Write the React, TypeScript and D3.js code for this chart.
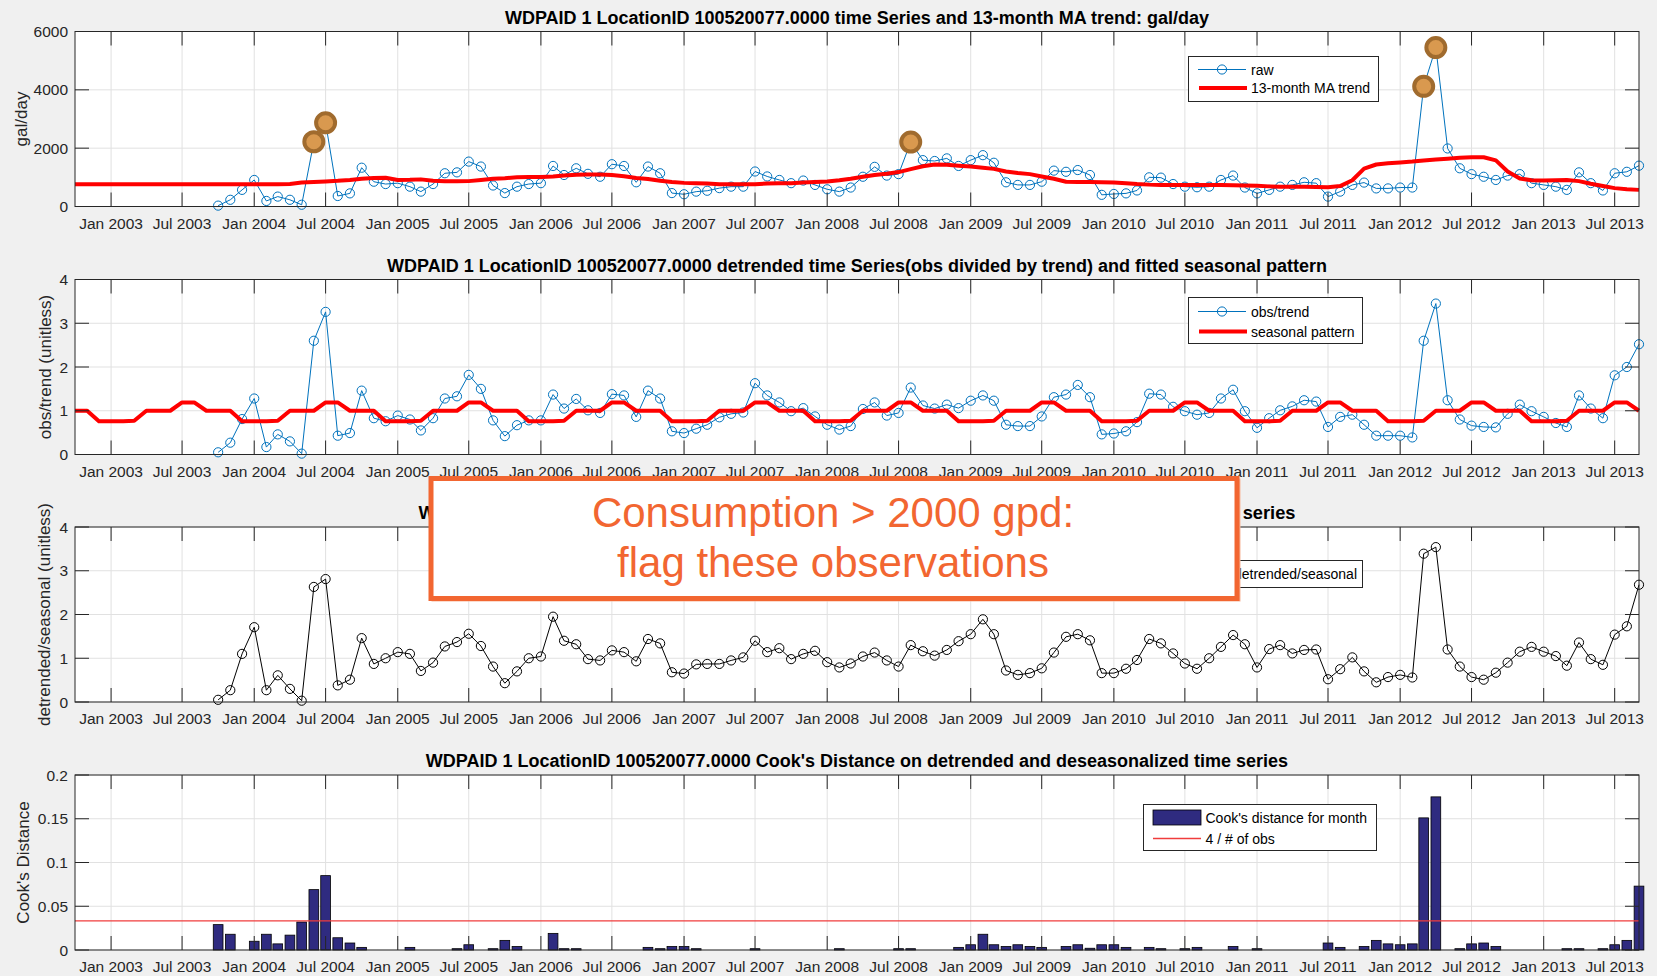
import React from 'react';
import * as d3 from 'd3';

// ---------- data ----------
const TICK_LABELS = [
  'Jan 2003', 'Jul 2003', 'Jan 2004', 'Jul 2004', 'Jan 2005', 'Jul 2005', 'Jan 2006', 'Jul 2006',
  'Jan 2007', 'Jul 2007', 'Jan 2008', 'Jul 2008', 'Jan 2009', 'Jul 2009', 'Jan 2010', 'Jul 2010',
  'Jan 2011', 'Jul 2011', 'Jan 2012', 'Jul 2012', 'Jan 2013', 'Jul 2013',
];

const TREND_START = '2002-10';
const OBS_START = '2003-10';

// raw monthly consumption (gal/day), Oct 2003 .. Sep 2013
const RAW = [
  30, 230, 570,
  910, 190, 340, 230, 60, 2220, 2870, 360, 450, 1330, 850, 770,
  800, 680, 510, 770, 1140, 1170, 1540, 1370, 720, 460, 680, 770,
  800, 1390, 1080, 1310, 1120, 1020, 1450, 1390, 830, 1370, 1140, 460,
  420, 510, 540, 630, 680, 680, 1200, 1030, 910, 800, 890, 740,
  590, 510, 650, 1020, 1360, 1060, 1110, 2210, 1590, 1560, 1650, 1390,
  1590, 1760, 1500, 830, 740, 740, 850, 1230, 1190, 1250, 1080, 400,
  430, 450, 550, 1000, 990, 770, 680, 660, 680, 910, 1060, 650,
  450, 570, 680, 740, 830, 800, 340, 510, 740, 820, 620, 620,
  650, 650, 4120, 5450, 1990, 1310, 1110, 1020, 910, 1060, 1110, 800,
  740, 680, 570, 1170, 800, 550, 1140, 1190, 1400,
];

// 13-month MA trend, Oct 2002 .. Sep 2013
const TREND = [
  765, 765, 765, 765, 765, 765, 765, 765, 765, 765, 765, 765, 765, 765, 765, 765, 765, 765,
  775, 820, 840, 860, 880, 910, 950, 980, 985,
  910, 915, 930, 880, 865, 865, 870, 910, 950, 970, 1000, 1010,
  1010, 1030, 1060, 1090, 1100, 1100, 1080, 1040, 980, 940, 880, 840,
  810, 800, 790, 760, 760, 760, 760, 790, 800, 800, 820, 840,
  860, 900, 950, 1020, 1080, 1120, 1180, 1280, 1380, 1440, 1430, 1400,
  1370, 1330, 1290, 1200, 1150, 1110, 1030, 950, 850, 840, 840, 830,
  820, 800, 770, 750, 740, 740, 740, 740, 740, 740, 730, 720,
  710, 690, 680, 680, 680, 670, 660, 700, 900, 1300, 1440, 1480,
  1510, 1540, 1580, 1610, 1640, 1670, 1690, 1690, 1580, 1200, 960, 900,
  890, 900, 910, 870, 780, 700, 630, 590, 570,
];

// obs / trend, Oct 2003 .. Sep 2013
const OBS_TREND = [
  0.05, 0.27, 0.81,
  1.28, 0.17, 0.46, 0.30, 0.02, 2.60, 3.26, 0.43, 0.49, 1.46, 0.83, 0.76,
  0.89, 0.80, 0.55, 0.83, 1.28, 1.33, 1.82, 1.50, 0.78, 0.42, 0.67, 0.78,
  0.78, 1.37, 1.05, 1.27, 1.01, 0.95, 1.38, 1.35, 0.86, 1.46, 1.28, 0.53,
  0.49, 0.59, 0.68, 0.85, 0.93, 0.96, 1.63, 1.35, 1.19, 0.99, 1.06, 0.87,
  0.68, 0.57, 0.65, 1.04, 1.19, 0.89, 0.95, 1.53, 1.12, 1.05, 1.14, 1.06,
  1.23, 1.35, 1.23, 0.68, 0.65, 0.65, 0.87, 1.31, 1.37, 1.59, 1.31, 0.46,
  0.48, 0.53, 0.74, 1.39, 1.37, 1.09, 0.99, 0.91, 0.95, 1.28, 1.48, 0.99,
  0.61, 0.83, 1.01, 1.10, 1.24, 1.21, 0.63, 0.86, 0.91, 0.68, 0.43, 0.43,
  0.43, 0.39, 2.60, 3.45, 1.24, 0.80, 0.66, 0.63, 0.62, 0.93, 1.14, 0.99,
  0.86, 0.72, 0.63, 1.35, 1.05, 0.83, 1.81, 2.00, 2.52,
];

// fitted seasonal pattern, Oct 2002 .. Sep 2013
const SEASONAL = [
  1.0, 1.0, 0.76,
  0.76, 0.76, 0.77, 1.0, 1.0, 1.0, 1.19, 1.19, 1.0, 1.0, 1.0, 0.76,
  0.76, 0.76, 0.77, 1.0, 1.0, 1.0, 1.19, 1.19, 1.0, 1.0, 1.0, 0.76,
  0.76, 0.76, 0.77, 1.0, 1.0, 1.0, 1.19, 1.19, 1.0, 1.0, 1.0, 0.76,
  0.76, 0.76, 0.77, 1.0, 1.0, 1.0, 1.19, 1.19, 1.0, 1.0, 1.0, 0.76,
  0.76, 0.76, 0.77, 1.0, 1.0, 1.0, 1.19, 1.19, 1.0, 1.0, 1.0, 0.76,
  0.76, 0.76, 0.77, 1.0, 1.0, 1.0, 1.19, 1.19, 1.0, 1.0, 1.0, 0.76,
  0.76, 0.76, 0.77, 1.0, 1.0, 1.0, 1.19, 1.19, 1.0, 1.0, 1.0, 0.76,
  0.76, 0.76, 0.77, 1.0, 1.0, 1.0, 1.19, 1.19, 1.0, 1.0, 1.0, 0.76,
  0.76, 0.76, 0.77, 1.0, 1.0, 1.0, 1.19, 1.19, 1.0, 1.0, 1.0, 0.76,
  0.76, 0.76, 0.77, 1.0, 1.0, 1.0, 1.19, 1.19, 1.0, 1.0, 1.0, 0.76,
  0.76, 0.76, 0.77, 1.0, 1.0, 1.0, 1.19, 1.19, 1.0,
];

// detrended / seasonal, Oct 2003 .. Sep 2013
const DESEAS = [
  0.05, 0.27, 1.10,
  1.71, 0.27, 0.61, 0.30, 0.03, 2.63, 2.81, 0.38, 0.51, 1.46, 0.87, 1.00,
  1.14, 1.10, 0.71, 0.90, 1.27, 1.37, 1.56, 1.28, 0.81, 0.43, 0.70, 1.00,
  1.04, 1.95, 1.40, 1.32, 0.98, 0.95, 1.18, 1.14, 0.93, 1.44, 1.34, 0.68,
  0.65, 0.86, 0.87, 0.87, 0.95, 1.02, 1.40, 1.14, 1.23, 0.98, 1.10, 1.17,
  0.91, 0.79, 0.88, 1.04, 1.13, 0.95, 0.81, 1.30, 1.16, 1.06, 1.19, 1.39,
  1.55, 1.89, 1.55, 0.72, 0.62, 0.66, 0.77, 1.13, 1.49, 1.55, 1.41, 0.66,
  0.66, 0.76, 0.96, 1.44, 1.34, 1.11, 0.88, 0.76, 1.00, 1.26, 1.53, 1.32,
  0.79, 1.21, 1.30, 1.11, 1.19, 1.20, 0.52, 0.75, 1.02, 0.70, 0.45, 0.57,
  0.62, 0.56, 3.39, 3.54, 1.20, 0.81, 0.57, 0.51, 0.67, 0.90, 1.15, 1.26,
  1.15, 1.05, 0.83, 1.36, 0.98, 0.85, 1.54, 1.73, 2.68,
];

// Cook's distance per month, Oct 2003 .. Sep 2013
const COOKS = [
  0.029, 0.018, 0,
  0.010, 0.018, 0.007, 0.017, 0.032, 0.069, 0.085, 0.014, 0.008, 0.003, 0, 0,
  0, 0.003, 0, 0, 0, 0.0015, 0.006, 0, 0.0015, 0.011, 0.004, 0,
  0, 0.019, 0.0015, 0.0015, 0, 0, 0, 0, 0, 0.003, 0.0015, 0.004,
  0.004, 0.0015, 0, 0, 0, 0, 0.0015, 0, 0, 0, 0, 0,
  0, 0.0015, 0, 0, 0, 0, 0.0015, 0.0015, 0, 0, 0, 0.003,
  0.006, 0.018, 0.006, 0.004, 0.006, 0.004, 0.003, 0, 0.004, 0.006, 0.002, 0.006,
  0.006, 0.003, 0, 0.003, 0.0015, 0, 0.0015, 0.003, 0, 0, 0.004, 0,
  0.0015, 0, 0, 0, 0, 0, 0.008, 0.003, 0, 0.004, 0.011, 0.007,
  0.006, 0.007, 0.151, 0.175, 0, 0.0015, 0.007, 0.008, 0.004, 0, 0, 0,
  0, 0, 0.0015, 0.0015, 0, 0.0015, 0.006, 0.011, 0.073,
];

const FLAG_LIMIT = 2000;

const TITLES = [
  'WDPAID 1 LocationID 100520077.0000 time Series and 13-month MA trend: gal/day',
  'WDPAID 1 LocationID 100520077.0000 detrended time Series(obs divided by trend) and fitted seasonal pattern',
  'WDPAID 1 LocationID 100520077.0000 detrended time Series divided by seasonal pattern: time series',
  "WDPAID 1 LocationID 100520077.0000 Cook's Distance on detrended and deseasonalized time series",
];
const YLABELS = ['gal/day', 'obs/trend (unitless)', 'detrended/seasonal (unitless)', "Cook's Distance"];
const Y_TICKS = [
  [0, 2000, 4000, 6000],
  [0, 1, 2, 3, 4],
  [0, 1, 2, 3, 4],
  [0, 0.05, 0.1, 0.15, 0.2],
];
const Y_MAX = [6000, 4, 4, 0.2];

// ---------- layout ----------
const W = 1657;
const H = 976;
const L = 75;
const R = 1639;
const PH = 175;
const TOPS = [31.5, 279.5, 527, 775];
const YLABEL_X = [21, 45, 44, 23];
const TITLE_LEN: (number | undefined)[] = [undefined, undefined, 877, undefined];
const FONT = "'Liberation Sans', Arial, Helvetica, sans-serif";
const AX = '#262626';
const GRID = '#e1e1e1';
const BLUE = '#0072BD';
const RED = '#FF0000';
const BAR = '#2F2B80';
const ORANGE = '#F26631';

const parseMonth = d3.timeParse('%Y-%m');
const parseTick = d3.timeParse('%b %Y');
const trendStart = parseMonth(TREND_START) as Date;
const obsStart = parseMonth(OBS_START) as Date;
const trendDates = d3.timeMonth.range(trendStart, d3.timeMonth.offset(trendStart, TREND.length));
const obsDates = d3.timeMonth.range(obsStart, d3.timeMonth.offset(obsStart, RAW.length));
const tickDates = TICK_LABELS.map((t) => parseTick(t) as Date);

const x = d3.scaleTime().domain([trendDates[0], trendDates[trendDates.length - 1]]).range([L, R]);
const yScales = TOPS.map((t, i) => d3.scaleLinear().domain([0, Y_MAX[i]]).range([t + PH, t]));

function Axes({ idx, children }: { idx: number; children?: React.ReactNode }) {
  const top = TOPS[idx];
  const bottom = top + PH;
  const y = yScales[idx];
  const TL = 14;
  const tl = TITLE_LEN[idx];
  return (
    <g>
      <rect x={L} y={top} width={R - L} height={PH} fill="#fff" />
      {tickDates.map((d, i) => (
        <line key={'gx' + i} x1={x(d)} x2={x(d)} y1={top} y2={bottom} stroke={GRID} strokeWidth={1} />
      ))}
      {Y_TICKS[idx].map((v, i) => (
        <line key={'gy' + i} x1={L} x2={R} y1={y(v)} y2={y(v)} stroke={GRID} strokeWidth={1} />
      ))}
      {children}
      <rect x={L} y={top} width={R - L} height={PH} fill="none" stroke={AX} strokeWidth={1} />
      {tickDates.map((d, i) => (
        <g key={'tx' + i}>
          <line x1={x(d)} x2={x(d)} y1={bottom} y2={bottom - TL} stroke={AX} />
          <line x1={x(d)} x2={x(d)} y1={top} y2={top + TL} stroke={AX} />
          <text x={x(d)} y={bottom + 22} textAnchor="middle" fontSize={15.5} fill={AX} fontFamily={FONT}>
            {TICK_LABELS[i]}
          </text>
        </g>
      ))}
      {Y_TICKS[idx].map((v, i) => (
        <g key={'ty' + i}>
          <line x1={L} x2={L + TL} y1={y(v)} y2={y(v)} stroke={AX} />
          <line x1={R} x2={R - TL} y1={y(v)} y2={y(v)} stroke={AX} />
          <text x={L - 7} y={y(v)} textAnchor="end" dominantBaseline="central" fontSize={15.5} fill={AX} fontFamily={FONT}>
            {String(v)}
          </text>
        </g>
      ))}
      <text
        x={(L + R) / 2}
        y={top - 8}
        textAnchor="middle"
        fontSize={18}
        fontWeight="bold"
        fill="#000"
        fontFamily={FONT}
        {...(tl ? { textLength: tl, lengthAdjust: 'spacingAndGlyphs' } : {})}
      >
        {TITLES[idx]}
      </text>
      <text
        transform={`translate(${YLABEL_X[idx]},${(top + bottom) / 2}) rotate(-90)`}
        textAnchor="middle"
        dominantBaseline="central"
        fontSize={17}
        fill={AX}
        fontFamily={FONT}
      >
        {YLABELS[idx]}
      </text>
    </g>
  );
}

function Series({ dates, values, y, color, width, marker }: any) {
  const line = d3
    .line<number>()
    .x((_, i) => x(dates[i]))
    .y((d) => y(d));
  return (
    <g>
      <path d={line(values) || ''} fill="none" stroke={color} strokeWidth={width} strokeLinejoin="round" />
      {marker &&
        values.map((v: number, i: number) => (
          <circle key={i} cx={x(dates[i])} cy={y(v)} r={4.6} fill="none" stroke={color} strokeWidth={1} />
        ))}
    </g>
  );
}

function LegendBox({ x0, y0, x1, y1 }: any) {
  return <rect x={x0} y={y0} width={x1 - x0} height={y1 - y0} fill="#fff" stroke={AX} strokeWidth={1} />;
}

function LegText({ tx, ty, children }: any) {
  return (
    <text x={tx} y={ty} dominantBaseline="central" fontSize={14} fill="#000" fontFamily={FONT}>
      {children}
    </text>
  );
}

export default function App() {
  const y0 = yScales[0];
  const y1 = yScales[1];
  const y2 = yScales[2];
  const y3 = yScales[3];
  const monthW = x(obsDates[1]) - x(obsDates[0]);
  const barW = monthW * 0.8;
  const threshold = 4 / RAW.length;
  const flagged = RAW.map((v, i) => ({ v, d: obsDates[i] })).filter((p) => p.v > FLAG_LIMIT);

  return (
    <div style={{ position: 'absolute', left: 0, top: 0, width: W, height: H }}>
      <svg width={W} height={H} viewBox={`0 0 ${W} ${H}`} style={{ display: 'block' }}>
        <rect x={0} y={0} width={W} height={H} fill="#f0f0f0" />

        {/* Panel 1 */}
        <Axes idx={0}>
          <Series dates={obsDates} values={RAW} y={y0} color={BLUE} width={1} marker />
          <Series dates={trendDates} values={TREND} y={y0} color={RED} width={4} />
        </Axes>
        {flagged.map((p, i) => (
          <circle key={'fl' + i} cx={x(p.d)} cy={y0(p.v)} r={9.5} fill="#D9994F" stroke="#A06B2E" strokeWidth={4} />
        ))}
        <LegendBox x0={1188.5} y0={56.5} x1={1378.5} y1={101.5} />
        <line x1={1198} x2={1246} y1={69.5} y2={69.5} stroke={BLUE} strokeWidth={1} />
        <circle cx={1222} cy={69.5} r={4.6} fill="none" stroke={BLUE} strokeWidth={1} />
        <LegText tx={1251} ty={69.5}>raw</LegText>
        <line x1={1199} x2={1247} y1={88} y2={88} stroke={RED} strokeWidth={4} />
        <LegText tx={1251} ty={88}>13-month MA trend</LegText>

        {/* Panel 2 */}
        <Axes idx={1}>
          <Series dates={obsDates} values={OBS_TREND} y={y1} color={BLUE} width={1} marker />
          <Series dates={trendDates} values={SEASONAL} y={y1} color={RED} width={4} />
        </Axes>
        <LegendBox x0={1188.5} y0={297.5} x1={1362.5} y1={343.5} />
        <line x1={1198} x2={1246} y1={311.5} y2={311.5} stroke={BLUE} strokeWidth={1} />
        <circle cx={1222} cy={311.5} r={4.6} fill="none" stroke={BLUE} strokeWidth={1} />
        <LegText tx={1251} ty={311.5}>obs/trend</LegText>
        <line x1={1199} x2={1247} y1={331.5} y2={331.5} stroke={RED} strokeWidth={4} />
        <LegText tx={1251} ty={331.5}>seasonal pattern</LegText>

        {/* Panel 3 */}
        <Axes idx={2}>
          <Series dates={obsDates} values={DESEAS} y={y2} color="#000" width={1} marker />
        </Axes>
        <LegendBox x0={1178.5} y0={560.5} x1={1362.5} y1={587.5} />
        <line x1={1186} x2={1230} y1={574} y2={574} stroke="#000" strokeWidth={1} />
        <circle cx={1208} cy={574} r={4.6} fill="none" stroke="#000" strokeWidth={1} />
        <LegText tx={1234} ty={574}>detrended/seasonal</LegText>

        {/* Panel 4 */}
        <Axes idx={3}>
          {COOKS.map((v, i) => (
            <rect
              key={'b' + i}
              x={x(obsDates[i]) - barW / 2}
              y={y3(v)}
              width={barW}
              height={y3(0) - y3(v)}
              fill={BAR}
              stroke="#000"
              strokeWidth={0.8}
            />
          ))}
          <line x1={L} x2={R} y1={y3(threshold)} y2={y3(threshold)} stroke="#F03C3C" strokeWidth={1.4} />
        </Axes>
        <LegendBox x0={1143.5} y0={804.5} x1={1376.5} y1={850.5} />
        <rect x={1153} y={810} width={48} height={15} fill={BAR} stroke="#000" strokeWidth={0.8} />
        <LegText tx={1205.5} ty={817.5}>Cook's distance for month</LegText>
        <line x1={1153} x2={1201} y1={838.5} y2={838.5} stroke="#F03C3C" strokeWidth={1.4} />
        <LegText tx={1205.5} ty={838.5}>4 / # of obs</LegText>

        {/* Annotation */}
        <rect x={433} y={480} width={806} height={120} fill="none" stroke="#f7b79c" strokeWidth={3} />
        <rect x={431} y={478.5} width={806} height={120} fill="#fff" stroke={ORANGE} strokeWidth={5} />
        <text x={833} y={527} textAnchor="middle" fontSize={42} fill={ORANGE} fontFamily={FONT}>
          Consumption &gt; 2000 gpd:
        </text>
        <text x={833} y={577} textAnchor="middle" fontSize={42} fill={ORANGE} fontFamily={FONT}>
          flag these observations
        </text>
      </svg>
    </div>
  );
}
